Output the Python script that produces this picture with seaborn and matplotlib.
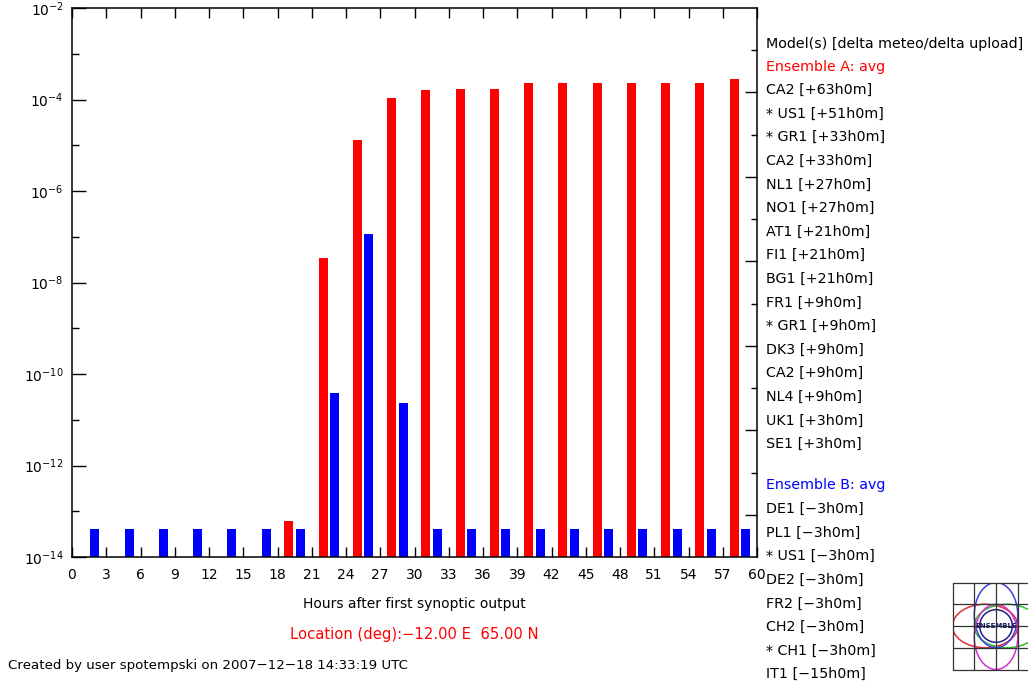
import numpy as np
import pandas as pd
import matplotlib
matplotlib.use("Agg")
import matplotlib.pyplot as plt
from matplotlib.ticker import FixedLocator, NullFormatter, FixedFormatter
from matplotlib.patches import Ellipse, Circle
import seaborn as sns

# ---------------- data ----------------
hours_a = [19, 22, 25, 28, 31, 34, 37, 40, 43, 46, 49, 52, 55, 58]
values_a = [6e-14, 3.5e-8, 1.3e-5, 1.07e-4, 1.6e-4, 1.7e-4, 1.7e-4,
            2.3e-4, 2.3e-4, 2.3e-4, 2.3e-4, 2.3e-4, 2.3e-4, 2.8e-4]
hours_b = [2, 5, 8, 11, 14, 17, 20, 23, 26, 29, 32, 35, 38, 41, 44, 47, 50, 53, 56, 59]
values_b = [4e-14, 4e-14, 4e-14, 4e-14, 4e-14, 4e-14, 4e-14, 3.8e-11, 1.15e-7, 2.3e-11,
            4e-14, 4e-14, 4e-14, 4e-14, 4e-14, 4e-14, 4e-14, 4e-14, 4e-14, 4e-14]
x_ticks = list(range(0, 61, 3))
y_major_exp = [-14, -12, -10, -8, -6, -4, -2]
y_minor_exp = [-13, -11, -9, -7, -5, -3]

models_a = ["CA2 [+63h0m]", "* US1 [+51h0m]", "* GR1 [+33h0m]", "CA2 [+33h0m]",
            "NL1 [+27h0m]", "NO1 [+27h0m]", "AT1 [+21h0m]", "FI1 [+21h0m]",
            "BG1 [+21h0m]", "FR1 [+9h0m]", "* GR1 [+9h0m]", "DK3 [+9h0m]",
            "CA2 [+9h0m]", "NL4 [+9h0m]", "UK1 [+3h0m]", "SE1 [+3h0m]"]
models_b = ["DE1 [\u22123h0m]", "PL1 [\u22123h0m]", "* US1 [\u22123h0m]", "DE2 [\u22123h0m]",
            "FR2 [\u22123h0m]", "CH2 [\u22123h0m]", "* CH1 [\u22123h0m]", "IT1 [\u221215h0m]"]

df = pd.DataFrame({
    "hour": hours_a + hours_b,
    "value": values_a + values_b,
    "ensemble": ["A"] * len(hours_a) + ["B"] * len(hours_b),
})

# ---------------- figure ----------------
sns.set_style("ticks")
plt.rcParams["font.family"] = ["DejaVu Sans"]
plt.rcParams["font.size"] = 10
plt.rcParams["text.color"] = "black"
plt.rcParams["axes.labelcolor"] = "black"
plt.rcParams["xtick.color"] = "black"
plt.rcParams["ytick.color"] = "black"

W, H = 1028, 681
fig = plt.figure(figsize=(W / 100, H / 100), dpi=100)

def fx(px):
    return px / W

def fy(py):
    return 1 - py / H

ax = fig.add_axes([fx(72), fy(557), fx(757) - fx(72), fy(8) - fy(557)])

sns.barplot(data=df, x="hour", y="value", hue="ensemble",
            palette={"A": "#ff0000", "B": "#0000ff"}, dodge=False, saturation=1,
            native_scale=True, width=0.8, linewidth=0, legend=False, ax=ax)

ax.set_yscale("log")
ax.set_ylim(1e-14, 1e-2)
ax.set_xlim(0, 60)

ax.yaxis.set_major_locator(FixedLocator([10.0 ** e for e in y_major_exp]))
ax.yaxis.set_minor_locator(FixedLocator([10.0 ** e for e in y_minor_exp]))
ax.yaxis.set_major_formatter(FixedFormatter([r"$10^{%d}$" % e for e in y_major_exp]))
ax.yaxis.set_minor_formatter(NullFormatter())
ax.set_xticks(x_ticks)
ax.set_xticklabels([str(v) for v in x_ticks])

ax.tick_params(axis="y", which="major", direction="in", length=10, width=1,
               left=True, right=False, labelsize=10, pad=6, colors="black")
ax.tick_params(axis="y", which="minor", direction="in", length=5, width=1,
               left=True, right=False, colors="black")
ax.tick_params(axis="x", which="major", direction="in", length=7.5, width=1,
               top=True, bottom=True, labelsize=10, pad=8, colors="black")
ax.tick_params(axis="x", which="minor", bottom=False, top=False)

for s in ax.spines.values():
    s.set_visible(True)
    s.set_linewidth(1.1)
    s.set_color("black")

ax.set_xlabel("Hours after first synoptic output", fontsize=10, color="black")
ax.set_ylabel("")
ax.xaxis.set_label_coords(0.5, (557 - 604) / 549)
ax.xaxis.label.set_va("center")

# right axis with its own tick marks
ax2 = ax.twinx()
ax2.set_ylim(0, 13)
ax2.yaxis.set_major_locator(FixedLocator([1, 3, 5, 7, 9, 11]))
ax2.yaxis.set_minor_locator(FixedLocator([2, 4, 6, 8, 10, 12]))
ax2.yaxis.set_major_formatter(NullFormatter())
ax2.yaxis.set_minor_formatter(NullFormatter())
ax2.tick_params(axis="y", which="major", direction="in", length=8.5, width=1,
                right=True, left=False, colors="black")
ax2.tick_params(axis="y", which="minor", direction="in", length=4.5, width=1,
                right=True, left=False, colors="black")
for s in ax2.spines.values():
    s.set_visible(False)
ax2.grid(False)

# ---------------- texts ----------------
fs = 10.3
fig.text(fx(414.5), fy(635), "Location (deg):\u221212.00 E  65.00 N", color="#ff0000",
         ha="center", va="center", fontsize=10.6)
fig.text(fx(8), fy(666), "Created by user spotempski on 2007\u221212\u221218 14:33:19 UTC",
         ha="left", va="center", fontsize=9.6, color="black")

tx = 766
step = 23.6
fig.text(fx(tx), fy(44), "Model(s) [delta meteo/delta upload]", ha="left", va="center",
         fontsize=fs, color="black")
fig.text(fx(tx), fy(67), "Ensemble A: avg", color="#ff0000", ha="left", va="center", fontsize=fs)
for i, m in enumerate(models_a):
    fig.text(fx(tx), fy(90 + i * step), m, ha="left", va="center", fontsize=fs, color="black")
fig.text(fx(tx), fy(485), "Ensemble B: avg", color="#0000ff", ha="left", va="center", fontsize=fs)
for i, m in enumerate(models_b):
    fig.text(fx(tx), fy(509 + i * step), m, ha="left", va="center", fontsize=fs, color="black")

# ---------------- logo ----------------
lg = fig.add_axes([fx(952.5), fy(669.5), 87 / W, 87 / H])
lg.set_xlim(0, 4)
lg.set_ylim(0, 4)
lg.axis("off")
for k in range(5):
    lg.plot([k, k], [0, 4], color="#333333", lw=0.9, clip_on=False)
    lg.plot([0, 4], [k, k], color="#333333", lw=0.9, clip_on=False)
lg.add_patch(Ellipse((1.5, 2.0), 3.0, 2.0, fill=False, ec="#e03030", lw=1.1))
lg.add_patch(Ellipse((2.5, 2.0), 3.0, 2.0, fill=False, ec="#30c030", lw=1.1))
lg.add_patch(Ellipse((2.0, 2.5), 2.0, 3.0, fill=False, ec="#4040e0", lw=1.1))
lg.add_patch(Ellipse((2.0, 1.5), 2.0, 3.0, fill=False, ec="#d030d0", lw=1.1))
lg.add_patch(Circle((2.0, 2.0), 0.75, fill=False, ec="#202080", lw=1.1))
lg.text(2.0, 2.0, "ENSEMBLE", ha="center", va="center", fontsize=5,
        fontweight="bold", color="#1a1a60")

fig.savefig("out.png", dpi=100)
